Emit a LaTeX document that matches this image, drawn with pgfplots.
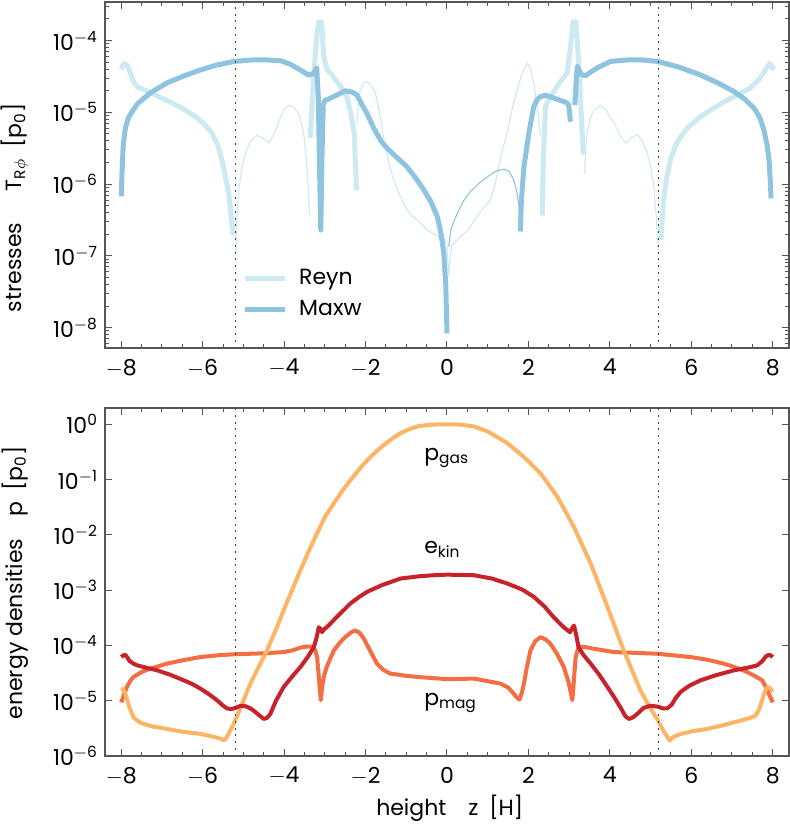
\documentclass[border=0pt]{standalone}
\usepackage{fontspec}
\setmainfont{Poppins}
\usepackage{pgfplots}
\usepackage{pgfplotstable}
\pgfplotsset{compat=1.18}

\definecolor{reyn}{HTML}{CDE9F2}
\definecolor{maxw}{HTML}{8EC4DF}
\definecolor{pgas}{HTML}{FDB465}
\definecolor{ekin}{HTML}{C8232A}
\definecolor{pmag}{HTML}{F46D43}
\definecolor{axgray}{HTML}{555555}

% all tables: x = height z [H], l = log10 of the value
% --- top panel: stresses (thick = positive, thin = negative) ---
\pgfplotstableread{
x l
-8.00 -4.40
-7.95 -4.33
-7.90 -4.32
-7.84 -4.36
-7.78 -4.45
-7.70 -4.57
-7.60 -4.65
-7.33 -4.71
-7.05 -4.79
-6.75 -4.87
-6.45 -4.96
-6.18 -5.06
-5.95 -5.17
-5.77 -5.29
-5.63 -5.46
-5.53 -5.66
-5.44 -5.90
-5.36 -6.13
-5.30 -6.45
-5.26 -6.71
}\reynA
\pgfplotstableread{
x l
-3.36 -5.36
-3.32 -4.95
-3.25 -4.30
-3.19 -3.90
-3.15 -3.74
-3.08 -3.74
-3.03 -4.20
-2.95 -4.40
-2.80 -4.50
-2.62 -4.63
-2.45 -4.80
-2.35 -5.05
-2.28 -5.29
-2.25 -5.70
-2.22 -6.08
}\reynB
\pgfplotstableread{
x l
2.34 -6.44
2.36 -5.80
2.39 -5.30
2.42 -4.92
2.54 -4.78
2.75 -4.60
2.95 -4.45
3.01 -4.20
3.05 -3.99
3.10 -3.74
3.16 -3.74
3.20 -4.00
3.24 -4.36
3.30 -5.06
3.35 -5.59
}\reynC
\pgfplotstableread{
x l
5.25 -6.78
5.29 -6.45
5.33 -6.17
5.40 -5.90
5.49 -5.66
5.60 -5.48
5.74 -5.34
5.95 -5.19
6.23 -5.06
6.55 -4.94
6.88 -4.83
7.17 -4.75
7.45 -4.66
7.65 -4.55
7.78 -4.45
7.88 -4.35
7.93 -4.32
7.98 -4.36
8.02 -4.41
}\reynD
\pgfplotstableread{
x l
-5.19 -6.95
-5.17 -6.55
-5.12 -6.13
-5.04 -5.78
-4.95 -5.57
-4.82 -5.40
-4.67 -5.32
-4.52 -5.36
-4.38 -5.43
-4.25 -5.30
-4.10 -5.08
-3.98 -4.94
-3.88 -4.90
-3.75 -4.93
-3.62 -5.05
-3.52 -5.29
-3.45 -5.70
-3.40 -6.10
-3.38 -6.43
}\reynNA
\pgfplotstableread{
x l
-2.21 -5.15
-2.17 -4.85
-2.13 -4.69
-2.05 -4.60
-1.96 -4.57
-1.86 -4.62
-1.76 -4.73
-1.65 -5.02
-1.55 -5.38
-1.43 -5.70
-1.31 -5.94
-1.15 -6.17
-0.98 -6.36
-0.85 -6.45
-0.73 -6.50
-0.60 -6.57
-0.49 -6.64
-0.30 -6.70
-0.16 -6.75
-0.05 -6.76
0.00 -6.85
0.04 -7.27
0.08 -7.00
0.12 -6.85
0.30 -6.75
0.49 -6.66
0.62 -6.55
0.74 -6.45
0.90 -6.33
1.07 -6.22
1.20 -5.95
1.35 -5.55
1.48 -5.29
1.60 -4.95
1.72 -4.69
1.85 -4.45
1.97 -4.32
2.05 -4.38
2.13 -4.59
2.22 -4.95
2.30 -5.33
}\reynNB
\pgfplotstableread{
x l
3.38 -5.85
3.41 -5.50
3.44 -5.29
3.52 -5.08
3.61 -4.97
3.77 -4.90
3.92 -4.98
4.10 -5.15
4.25 -5.32
4.39 -5.43
4.52 -5.36
4.67 -5.31
4.80 -5.40
4.92 -5.57
5.00 -5.75
5.08 -6.04
5.14 -6.45
5.19 -6.92
}\reynNC
\pgfplotstableread{
x l
-8.00 -6.17
-7.98 -5.80
-7.95 -5.45
-7.90 -5.22
-7.84 -5.10
-7.78 -5.03
-7.60 -4.88
-7.29 -4.73
-6.88 -4.59
-6.45 -4.49
-6.06 -4.41
-5.65 -4.34
-5.22 -4.29
-4.80 -4.27
-4.42 -4.27
-4.09 -4.28
-3.85 -4.33
-3.60 -4.41
-3.40 -4.48
-3.28 -4.46
-3.20 -4.38
-3.16 -4.80
-3.13 -5.80
-3.10 -6.64
-3.07 -5.60
-3.04 -4.90
-3.00 -4.83
-2.93 -4.82
-2.78 -4.78
-2.50 -4.70
-2.32 -4.72
-2.21 -4.76
-2.10 -4.88
-1.96 -5.02
-1.80 -5.22
-1.62 -5.40
-1.47 -5.50
-1.25 -5.62
-0.98 -5.76
-0.75 -5.93
-0.57 -6.08
-0.40 -6.24
-0.24 -6.45
-0.15 -6.68
-0.08 -6.95
-0.03 -7.40
0.00 -8.08
}\maxwA
\pgfplotstableread{
x l
1.80 -6.66
1.83 -6.20
1.89 -5.76
2.01 -5.29
2.13 -4.92
2.22 -4.82
2.30 -4.78
2.42 -4.76
2.62 -4.80
2.87 -4.85
2.95 -4.87
2.99 -4.90
3.01 -5.00
3.03 -5.13
}\maxwB
\pgfplotstableread{
x l
3.14 -4.90
3.17 -4.60
3.20 -4.36
3.25 -4.42
3.32 -4.48
3.40 -4.49
3.50 -4.45
3.69 -4.38
4.02 -4.29
4.43 -4.27
4.80 -4.27
5.17 -4.29
5.70 -4.37
6.23 -4.48
6.65 -4.59
7.05 -4.71
7.30 -4.81
7.54 -4.94
7.68 -5.07
7.78 -5.24
7.86 -5.45
7.91 -5.66
7.94 -5.95
7.96 -6.20
}\maxwC
\pgfplotstableread{
x l
0.04 -6.87
0.10 -6.62
0.25 -6.41
0.40 -6.24
0.58 -6.10
0.80 -5.98
0.99 -5.90
1.20 -5.82
1.40 -5.79
1.52 -5.82
1.64 -5.94
1.71 -6.10
1.77 -6.31
1.79 -6.59
}\maxwN
% --- bottom panel: energy densities ---
\pgfplotstableread{
x l
-8.00 -4.77
-7.95 -4.80
-7.90 -4.87
-7.80 -5.12
-7.70 -5.30
-7.55 -5.39
-7.45 -5.42
-7.20 -5.47
-6.88 -5.51
-6.50 -5.56
-6.06 -5.60
-5.75 -5.65
-5.55 -5.69
-5.47 -5.72
-5.40 -5.65
-5.24 -5.42
-5.05 -5.09
-4.83 -4.69
-4.62 -4.38
-4.42 -4.09
-4.20 -3.71
-4.01 -3.36
-3.80 -2.99
-3.60 -2.64
-3.40 -2.30
-3.19 -1.97
-3.00 -1.68
-2.78 -1.43
-2.57 -1.20
-2.37 -1.01
-2.15 -0.81
-1.96 -0.65
-1.75 -0.50
-1.55 -0.375
-1.35 -0.26
-1.14 -0.16
-0.93 -0.09
-0.73 -0.04
-0.50 -0.015
-0.32 -0.005
0.00 0.00
0.32 -0.005
0.66 -0.04
1.00 -0.13
1.48 -0.34
1.90 -0.60
2.30 -0.89
2.71 -1.31
3.12 -1.86
3.53 -2.52
3.94 -3.30
4.34 -4.09
4.55 -4.46
4.75 -4.81
4.95 -5.08
5.16 -5.33
5.32 -5.55
5.47 -5.72
5.55 -5.66
5.74 -5.60
6.05 -5.55
6.39 -5.51
6.80 -5.44
7.21 -5.36
7.45 -5.31
7.58 -5.27
7.67 -5.15
7.74 -4.99
7.80 -4.85
7.86 -4.75
7.93 -4.77
8.00 -4.84
}\pgastab
\pgfplotstableread{
x l
-8.00 -4.21
-7.95 -4.18
-7.90 -4.17
-7.85 -4.22
-7.80 -4.28
-7.70 -4.33
-7.61 -4.36
-7.35 -4.41
-7.12 -4.45
-6.80 -4.53
-6.47 -4.63
-6.25 -4.70
-6.06 -4.78
-5.85 -4.88
-5.65 -4.99
-5.50 -5.09
-5.40 -5.14
-5.30 -5.15
-5.24 -5.14
-5.10 -5.10
-4.99 -5.09
-4.85 -5.13
-4.75 -5.18
-4.60 -5.27
-4.50 -5.33
-4.42 -5.31
-4.34 -5.24
-4.20 -5.00
-4.01 -4.75
-3.80 -4.56
-3.60 -4.39
-3.43 -4.22
-3.27 -4.03
-3.20 -3.85
-3.15 -3.67
-3.11 -3.70
-3.07 -3.76
-3.01 -3.70
-2.95 -3.67
-2.70 -3.48
-2.37 -3.24
-2.15 -3.12
-1.96 -3.03
-1.60 -2.91
-1.14 -2.79
-0.70 -2.75
-0.32 -2.73
0.00 -2.72
0.66 -2.73
1.10 -2.79
1.48 -2.88
1.85 -2.99
2.13 -3.12
2.40 -3.30
2.62 -3.49
2.85 -3.66
3.02 -3.76
3.08 -3.68
3.12 -3.64
3.17 -3.80
3.23 -4.03
3.35 -4.17
3.53 -4.33
3.75 -4.54
3.94 -4.75
4.10 -4.93
4.26 -5.12
4.38 -5.28
4.47 -5.33
4.57 -5.30
4.67 -5.24
4.83 -5.13
5.00 -5.09
5.20 -5.11
5.30 -5.14
5.41 -5.14
5.52 -5.07
5.62 -4.95
5.74 -4.84
5.95 -4.73
6.23 -4.63
6.60 -4.54
7.05 -4.45
7.40 -4.40
7.62 -4.36
7.75 -4.28
7.83 -4.20
7.90 -4.17
7.95 -4.18
8.00 -4.21
}\ekintab
\pgfplotstableread{
x l
-8.00 -5.03
-7.93 -4.88
-7.86 -4.75
-7.78 -4.64
-7.70 -4.57
-7.50 -4.48
-7.29 -4.42
-6.88 -4.33
-6.50 -4.27
-6.06 -4.21
-5.65 -4.18
-5.24 -4.16
-4.80 -4.15
-4.42 -4.14
-4.01 -4.12
-3.80 -4.09
-3.60 -4.04
-3.45 -4.02
-3.31 -4.02
-3.24 -4.08
-3.19 -4.21
-3.15 -4.55
-3.10 -4.99
-3.06 -4.72
-3.02 -4.55
-2.95 -4.38
-2.78 -4.09
-2.62 -3.94
-2.50 -3.85
-2.35 -3.76
-2.25 -3.73
-2.15 -3.77
-2.04 -3.88
-1.90 -4.08
-1.72 -4.33
-1.55 -4.45
-1.39 -4.51
-1.00 -4.55
-0.73 -4.57
0.00 -4.61
0.66 -4.60
1.31 -4.69
1.50 -4.76
1.60 -4.84
1.70 -4.93
1.78 -4.98
1.84 -4.85
1.89 -4.69
1.96 -4.40
2.05 -4.09
2.17 -3.92
2.30 -3.85
2.42 -3.89
2.54 -3.97
2.70 -4.15
2.87 -4.39
2.98 -4.65
3.04 -4.85
3.08 -4.99
3.12 -4.60
3.16 -4.21
3.22 -4.06
3.28 -4.02
3.40 -4.03
3.53 -4.05
4.10 -4.12
5.16 -4.15
5.98 -4.21
6.40 -4.26
6.80 -4.33
7.10 -4.40
7.37 -4.48
7.58 -4.56
7.74 -4.63
7.83 -4.75
7.90 -4.87
7.96 -4.96
8.00 -5.03
}\pmagtab

\pgfplotsset{
  panel/.style={
    scale only axis, width=342pt,
    xmin=-8.4, xmax=8.4,
    axis line style={axgray, line width=0.6pt},
    tick style={axgray, line width=0.5pt},
    tick align=inside,
    major tick length=3.5pt, minor tick length=2pt,
    xtick={-8,-6,...,8},
    xticklabels={$-$8,$-$6,$-$4,$-$2,0,2,4,6,8},
    minor x tick num=3,
    ticklabel style={font=\fontsize{11}{13}\selectfont},
    xticklabel style={yshift=-2pt},
    label style={font=\fontsize{11}{13}\selectfont},
    every axis plot/.append style={line join=round, line cap=butt},
  },
}
\tikzset{
  thk/.style={line width=2.5pt},
  thn/.style={line width=0.55pt},
  dens/.style={line width=2pt},
  dotline/.style={color=black!75, line width=0.6pt, dash pattern=on 1pt off 2.4pt},
}

\begin{document}
\begin{tikzpicture}
\useasboundingbox (0,0) rectangle (395pt,415pt);

\begin{semilogyaxis}[panel,
  at={(52.5pt,241pt)}, anchor=south west, height=173pt,
  ymin=5.2e-9, ymax=3.45e-4,
  ytick={1e-8,1e-7,1e-6,1e-5,1e-4},
  yticklabels={10\textsuperscript{$-$8},10\textsuperscript{$-$7},10\textsuperscript{$-$6},10\textsuperscript{$-$5},10\textsuperscript{$-$4}},
  minor ytick={6e-9,7e-9,8e-9,9e-9,2e-8,3e-8,4e-8,5e-8,6e-8,7e-8,8e-8,9e-8,2e-7,3e-7,4e-7,5e-7,6e-7,7e-7,8e-7,9e-7,2e-6,3e-6,4e-6,5e-6,6e-6,7e-6,8e-6,9e-6,2e-5,3e-5,4e-5,5e-5,6e-5,7e-5,8e-5,9e-5,2e-4,3e-4},
  ylabel={stresses\quad\, T\textsubscript{R$\phi$}\enspace[p\textsubscript{0}]},
  ylabel style={at={(axis description cs:-0.132,0.405)}, anchor=center},
  legend style={draw=none, fill=none, at={(axis description cs:0.2,0.24)}, anchor=north west,
    font=\fontsize{11}{13}\selectfont, row sep=2.5pt, inner sep=0pt},
  legend cell align=left,
  legend image code/.code={\draw[#1] (0pt,0pt) -- (20pt,0pt); \path (24pt,0pt);},
]
\addlegendimage{reyn, line width=2.5pt}
\addlegendentry{Reyn}
\addlegendimage{maxw, line width=2.5pt}
\addlegendentry{Maxw}
\addplot[reyn, thk, forget plot] table[x=x, y expr=10^(\thisrow{l})] {\reynA};
\addplot[reyn, thk, forget plot] table[x=x, y expr=10^(\thisrow{l})] {\reynB};
\addplot[reyn, thk, forget plot] table[x=x, y expr=10^(\thisrow{l})] {\reynC};
\addplot[reyn, thk, forget plot] table[x=x, y expr=10^(\thisrow{l})] {\reynD};
\addplot[reyn, thn, forget plot] table[x=x, y expr=10^(\thisrow{l})] {\reynNA};
\addplot[reyn, thn, forget plot] table[x=x, y expr=10^(\thisrow{l})] {\reynNB};
\addplot[reyn, thn, forget plot] table[x=x, y expr=10^(\thisrow{l})] {\reynNC};
\addplot[maxw, thk, forget plot] table[x=x, y expr=10^(\thisrow{l})] {\maxwA};
\addplot[maxw, thk, forget plot] table[x=x, y expr=10^(\thisrow{l})] {\maxwB};
\addplot[maxw, thk, forget plot] table[x=x, y expr=10^(\thisrow{l})] {\maxwC};
\addplot[maxw, thn, forget plot] table[x=x, y expr=10^(\thisrow{l})] {\maxwN};
\addplot[dotline, forget plot] coordinates {(-5.2,1e-10) (-5.2,1e-3)};
\addplot[dotline, forget plot] coordinates {(5.2,1e-10) (5.2,1e-3)};
\end{semilogyaxis}

\begin{semilogyaxis}[panel,
  at={(52.5pt,37pt)}, anchor=south west, height=174pt,
  ymin=1e-6, ymax=1.97,
  ytick={1e-6,1e-5,1e-4,1e-3,1e-2,1e-1,1},
  yticklabels={10\textsuperscript{$-$6},10\textsuperscript{$-$5},10\textsuperscript{$-$4},10\textsuperscript{$-$3},10\textsuperscript{$-$2},10\textsuperscript{$-$1},10\textsuperscript{0}},
  yminorticks=false,
  ylabel={energy densities\quad p\enspace[p\textsubscript{0}]},
  ylabel style={at={(axis description cs:-0.132,0.497)}, anchor=center},
  xlabel={height\quad z\enspace[H]},
  xlabel style={at={(axis description cs:0.504,-0.149)}, anchor=center},
]
\addplot[pmag, dens] table[x=x, y expr=10^(\thisrow{l})] {\pmagtab};
\addplot[pgas, dens] table[x=x, y expr=10^(\thisrow{l})] {\pgastab};
\addplot[ekin, dens] table[x=x, y expr=10^(\thisrow{l})] {\ekintab};
\addplot[dotline] coordinates {(-5.2,1e-7) (-5.2,10)};
\addplot[dotline] coordinates {(5.2,1e-7) (5.2,10)};
\node[anchor=base west, font=\fontsize{11}{13}\selectfont] at (axis cs:-0.73,0.225) {p\textsubscript{gas}};
\node[anchor=base west, font=\fontsize{11}{13}\selectfont] at (axis cs:-0.73,4.6e-3) {e\textsubscript{kin}};
\node[anchor=base west, font=\fontsize{11}{13}\selectfont] at (axis cs:-0.73,8.3e-6) {p\textsubscript{mag}};
\end{semilogyaxis}
\end{tikzpicture}
\end{document}
